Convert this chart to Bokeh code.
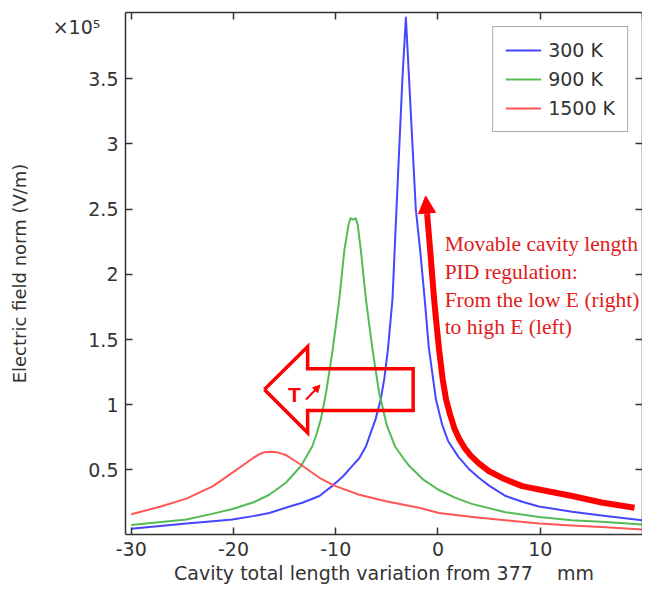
from bokeh.plotting import figure
from bokeh.models import (Range1d, LinearAxis, FixedTicker, Legend, LegendItem,
                          Label, Arrow, NormalHead)
from bokeh.embed import file_html
from bokeh.resources import INLINE

# ---------------- data (values in 1e5 V/m) ----------------
x300 = [-30.0, -24.6, -22.0, -20.1, -18.1, -16.5, -14.5, -13.2, -11.6, -10.3, -9.3, -8.4,
        -7.7, -7.05, -6.6, -6.1, -5.6, -5.25, -4.9, -4.45, -4.06, -3.48, -3.14, -2.83, -2.17,
        -1.75, -1.3, -0.9, -0.2, 0.4, 1.0, 2.0, 3.0, 4.0, 5.0, 6.62, 8.24, 9.87, 13.1,
        16.4, 20.0]
y300 = [0.05, 0.09, 0.107, 0.12, 0.146, 0.17, 0.22, 0.25, 0.30, 0.38, 0.45, 0.53,
        0.59, 0.68, 0.78, 0.89, 1.04, 1.20, 1.42, 1.81, 2.50, 3.50, 3.97, 3.50, 2.50,
        2.19, 1.81, 1.44, 1.04, 0.85, 0.72, 0.60, 0.51, 0.44, 0.38, 0.30, 0.256, 0.22, 0.18,
        0.146, 0.113]

x900 = [-30.0, -24.6, -22.0, -20.1, -18.1, -16.5, -14.9, -13.4, -12.3, -11.9, -11.45,
        -10.95, -10.3, -9.65, -9.15, -8.75, -8.55, -8.3, -8.05, -7.85, -7.55, -7.05,
        -6.4, -5.75, -5.0, -4.2, -3.3, -2.8, -1.5, 0.0, 1.6, 3.3, 6.6, 9.9, 13.1, 16.4, 20.0]
y900 = [0.077, 0.12, 0.165, 0.20, 0.25, 0.31, 0.40, 0.53, 0.68, 0.77, 0.89,
        1.09, 1.42, 1.81, 2.19, 2.38, 2.43, 2.42, 2.43, 2.38, 2.19, 1.81,
        1.42, 1.09, 0.84, 0.68, 0.58, 0.53, 0.43, 0.35, 0.29, 0.24, 0.176, 0.14, 0.115,
        0.10, 0.082]

x1500 = [-30.0, -27.2, -24.6, -22.0, -20.1, -18.1, -17.5, -17.0, -16.3, -15.6, -14.9,
         -14.2, -13.4, -11.6, -10.15, -7.7, -5.1, -1.85, 0.1, 3.4, 6.6, 9.9, 13.1, 16.4, 20.0]
y1500 = [0.16, 0.218, 0.28, 0.376, 0.48, 0.59, 0.62, 0.635, 0.64, 0.633, 0.615,
         0.58, 0.54, 0.44, 0.38, 0.31, 0.26, 0.21, 0.17, 0.14, 0.115, 0.09, 0.074, 0.061, 0.044]

series_labels = ["300 K", "900 K", "1500 K"]
series_colors = ["#4646ff", "#55bb55", "#ff5555"]

x_ticks = [-30, -20, -10, 0, 10]
x_tick_labels = ["-30", "-20", "-10", "0", "10"]
y_ticks = [0.5, 1.0, 1.5, 2.0, 2.5, 3.0, 3.5]
y_tick_labels = ["0.5", "1", "1.5", "2", "2.5", "3", "3.5"]
y_multiplier_pos = 3.9
y_multiplier_text = "\u00d710\u2075\u00a0\u00a0\u00a0"

# annotation geometry (data coordinates)
pid_x = [19.22, 16.0, 13.12, 10.5, 8.24, 6.5, 5.0, 4.0, 3.2, 2.6, 2.06, 1.6, 1.2, 0.79,
         0.45, 0.11, -0.15, -0.38, -0.77, -1.06]
pid_y = [0.21, 0.25, 0.30, 0.34, 0.376, 0.43, 0.49, 0.55, 0.61, 0.67, 0.74, 0.82, 0.92, 1.04,
         1.20, 1.42, 1.62, 1.81, 2.19, 2.46]
pid_tip = (-1.2, 2.60)

big_arrow_x = [-16.98, -12.75, -12.75, -2.43, -2.43, -12.75, -12.75, -16.98]
big_arrow_y = [1.117, 1.445, 1.276, 1.276, 0.956, 0.956, 0.785, 1.117]

note_lines = ["Movable cavity length", "PID regulation:",
              "From the low E (right)", "to high E (left)"]
note_y = [2.229, 2.015, 1.807, 1.600]
note_x = 0.65

# ---------------- figure ----------------
p = figure(frame_width=517, frame_height=522,
           x_range=Range1d(-30.56, 20.0), y_range=Range1d(0.005, 4.008),
           x_axis_type=None, y_axis_type=None,
           output_backend="svg", toolbar_location=None,
           min_border_left=125, min_border_top=12, min_border_right=0,
           min_border_bottom=0, background_fill_color="white",
           border_fill_color="white")
p.outline_line_color = None
p.xgrid.visible = False
p.ygrid.visible = False

AX_COL = "#333333"
FONT = "DejaVu Sans"


def make_axis(ticks, labels=None, tick_marks=True, line=True):
    ax = LinearAxis(ticker=FixedTicker(ticks=ticks))
    ax.axis_line_color = AX_COL if line else None
    ax.axis_line_width = 1.5
    ax.major_tick_line_color = AX_COL if tick_marks else None
    ax.major_tick_line_width = 1.5
    ax.major_tick_in = 7 if tick_marks else 0
    ax.major_tick_out = 0
    ax.minor_tick_line_color = None
    ax.minor_tick_in = 0
    ax.minor_tick_out = 0
    ax.major_label_text_font = FONT
    ax.major_label_text_color = AX_COL
    if labels is not None:
        ax.major_label_overrides = {t: l for t, l in zip(ticks, labels)}
        ax.major_label_text_font_size = "19px"
        ax.major_label_standoff = 7
    else:
        ax.major_label_overrides = {t: "" for t in ticks}
        ax.major_label_text_font_size = "0px"
        ax.major_label_standoff = 0
    ax.axis_label_text_font = FONT
    ax.axis_label_text_font_style = "normal"
    ax.axis_label_text_color = AX_COL
    return ax


# bottom axis
bottom_ax = make_axis(x_ticks, x_tick_labels)
bottom_ax.axis_label = "Cavity total length variation from 377\u00a0\u00a0\u00a0\u00a0mm"
bottom_ax.axis_label_text_font_size = "19px"
bottom_ax.axis_label_standoff = 3
p.add_layout(bottom_ax, "below")

# left: tick-mark axis (closest to frame) + label axis
left_ticks_ax = make_axis(y_ticks)
p.add_layout(left_ticks_ax, "left")
left_lbl_ax = make_axis(y_ticks + [y_multiplier_pos], y_tick_labels + [y_multiplier_text],
                        tick_marks=False, line=False)
left_lbl_ax.axis_label = "Electric field norm (V/m)"
left_lbl_ax.axis_label_text_font_size = "18px"
left_lbl_ax.axis_label_standoff = 20
p.add_layout(left_lbl_ax, "left")

# mirrored frame axes
p.add_layout(make_axis(y_ticks), "right")
p.add_layout(make_axis(x_ticks + [20]), "above")

# curves
renderers = []
for xs, ys, c in zip([x300, x900, x1500], [y300, y900, y1500], series_colors):
    renderers.append(p.line(xs, ys, line_color=c, line_width=2, line_join="round"))

# PID thick red arrow
p.line(pid_x, pid_y, line_color="#ff0000", line_width=6, line_join="round")
p.add_layout(Arrow(x_start=pid_x[-1], y_start=pid_y[-1], x_end=pid_tip[0], y_end=pid_tip[1],
                   line_color="#ff0000", line_width=6,
                   end=NormalHead(size=17, fill_color="#ff0000", line_color="#ff0000",
                                  line_width=1)))

# big hollow arrow
p.line(big_arrow_x, big_arrow_y, line_color="#ff0000", line_width=3.5, line_join="miter")

# T with small arrow
p.add_layout(Label(x=-14.05, y=1.079, text="T", text_font="Liberation Sans",
                   text_font_style="bold", text_font_size="21px", text_color="#ff0000",
                   text_align="center", text_baseline="middle"))
p.add_layout(Arrow(x_start=-12.91, y_start=1.04, x_end=-11.54, y_end=1.15,
                   line_color="#ff0000", line_width=2,
                   end=NormalHead(size=7, fill_color="#ff0000", line_color="#ff0000",
                                  line_width=1)))

# note text
for t, yy in zip(note_lines, note_y):
    p.add_layout(Label(x=note_x, y=yy, text=t, text_font="Liberation Serif",
                       text_font_size="21.5px", text_color="#e01b1b",
                       text_baseline="middle", text_align="left"))

# legend
legend = Legend(items=[LegendItem(label=l, renderers=[r])
                       for l, r in zip(series_labels, renderers)],
                location="top_right")
legend.margin = 14
legend.padding = 12
legend.spacing = 7
legend.glyph_width = 36
legend.glyph_height = 20
legend.label_height = 20
legend.label_standoff = 7
legend.label_text_font = FONT
legend.label_text_font_size = "19px"
legend.label_text_color = AX_COL
legend.border_line_color = "#555555"
legend.border_line_width = 1.5
legend.background_fill_color = "white"
legend.background_fill_alpha = 1.0
p.add_layout(legend)

open("out.html", "w").write(file_html(p, INLINE))
